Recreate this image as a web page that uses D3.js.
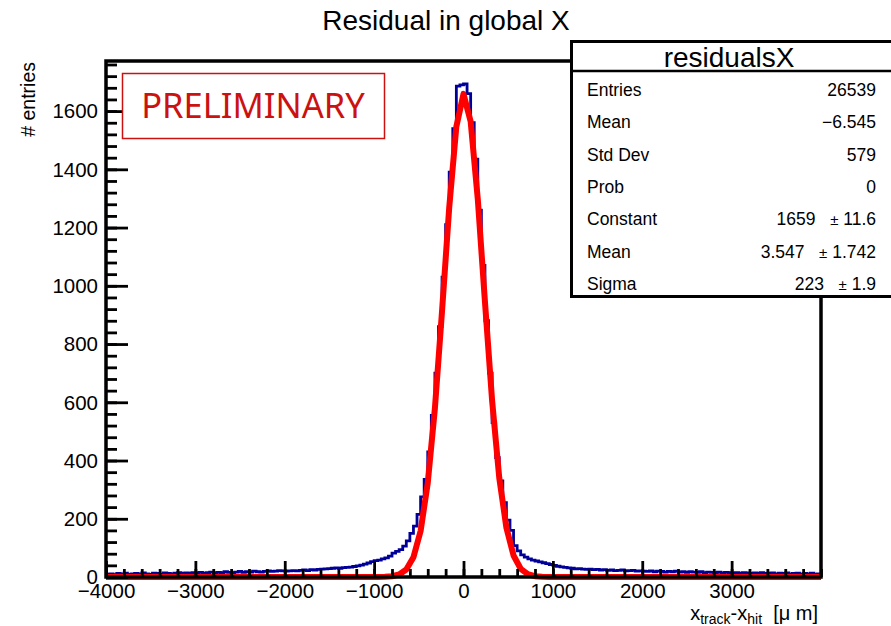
<!DOCTYPE html>
<html><head><meta charset="utf-8">
<script src="https://cdn.jsdelivr.net/npm/d3@7"></script>
<style>body{margin:0;background:#fff}text{font-family:"Liberation Sans",Arial,Helvetica,sans-serif}</style>
</head><body>
<svg id="c" width="891" height="626"></svg>
<script>
// ---- data ----
const binLow = -4000, binHigh = 4000, binWidth = 40;
const counts = [
  9, 11, 8, 12, 10, 13, 9, 11, 12, 10, 14, 11, 9, 13, 12, 10, 14, 12, 11, 13, 15, 12, 14, 13, 15,
  14, 16, 13, 15, 17, 14, 16, 15, 18, 16, 15, 17, 19, 16, 18, 17, 20, 18, 17, 19, 21, 19, 20, 22, 21,
  20, 21, 22, 21, 23, 24, 22, 25, 24, 26, 27, 28, 29, 30, 31, 30, 32, 33, 34, 36, 38, 41, 44, 48, 53,
  56, 58, 62, 66, 72, 82, 88, 94, 106, 124, 150, 175, 215, 275, 335, 430, 555, 700, 860, 1030, 1210, 1390, 1540, 1686, 1690,
  1693, 1660, 1560, 1435, 1260, 1070, 880, 700, 530, 410, 330, 255, 195, 160, 108, 90, 76, 68, 62, 58, 55, 52, 49, 46, 43,
  40, 37, 35, 33, 31, 30, 28, 29, 27, 26, 27, 25, 26, 24, 25, 23, 24, 22, 23, 24, 21, 22, 23, 20, 21,
  20, 19, 21, 18, 20, 19, 17, 19, 18, 20, 17, 18, 16, 18, 17, 16, 18, 15, 17, 16, 15, 17, 14, 16, 15,
  14, 15, 13, 15, 14, 12, 14, 13, 15, 12, 13, 14, 11, 13, 12, 14, 11, 12, 13, 10, 12, 11, 13, 10, 11
];
const fitX = [-4000,-3000,-2000,-1200,-1040,-960,-880,-800,-720,-640,-560,-480,-400,-320,-240,-160,-80,0,80,160,240,320,400,480,560,640,720,800,880,960,1040,1200,2000,3000,4000];
const fitY = [0,0,0,0,0.02,0.15,0.65,2.5,8.6,25.8,68.1,158,323,579,914,1268,1547,1659,1564,1297,945,606,341,169,73.7,28.2,9.5,2.8,0.73,0.17,0.03,0,0,0,0];
const xTickValues = [-4000,-3000,-2000,-1000,0,1000,2000,3000];
const yTickValues = [0,200,400,600,800,1000,1200,1400,1600];
const yMax = 1772;
const titleText = "Residual in global X";
const statsTitle = "residualsX";
const statsLabels = ["Entries","Mean","Std Dev","Prob","Constant","Mean","Sigma"];
const statsValues = ["26539","\u22126.545","579","0","1659","3.547","223"];
const statsErrors = ["","","","","11.6","1.742","1.9"];

// ---- layout ----
const svg = d3.select("#c");
const L = 106, R = 821, T = 61, B = 577;
const x = d3.scaleLinear().domain([binLow, binHigh]).range([L, R]);
const y = d3.scaleLinear().domain([0, yMax]).range([B, T]);

svg.append("rect").attr("width",891).attr("height",626).attr("fill","#fff");

// histogram
const pts = counts.map((c,i)=>[binLow + i*binWidth, c]);
pts.push([binHigh, counts[counts.length-1]]);
const hline = d3.line().x(d=>x(d[0])).y(d=>y(d[1])).curve(d3.curveStepAfter);
svg.append("path").attr("d", hline(pts)).attr("fill","none")
  .attr("stroke","#000099").attr("stroke-width",2.8);

// fit
const fline = d3.line().x((d,i)=>x(fitX[i])).y(d=>y(d));
svg.append("path").attr("d", fline(fitY)).attr("fill","none")
  .attr("stroke","#ff0000").attr("stroke-width",6).attr("stroke-linejoin","round");

// axes
const xMinor = d3.range(binLow, binHigh+1, 200);
const yMinor = d3.range(0, yMax, 40);
const fmtX = d=>d<0?"\u2212"+Math.abs(d):""+d;
const gxm = svg.append("g").attr("transform",`translate(0,${B})`)
  .call(d3.axisBottom(x).tickValues(xMinor).tickSize(-8).tickFormat(""));
const gx = svg.append("g").attr("transform",`translate(0,${B})`)
  .call(d3.axisBottom(x).tickValues(xTickValues).tickSizeInner(-16).tickSizeOuter(0).tickPadding(3)
    .tickFormat(fmtX));
const gym = svg.append("g").attr("transform",`translate(${L},0)`)
  .call(d3.axisLeft(y).tickValues(yMinor).tickSize(-11).tickFormat(""));
const gy = svg.append("g").attr("transform",`translate(${L},0)`)
  .call(d3.axisLeft(y).tickValues(yTickValues).tickSizeInner(-22).tickSizeOuter(0).tickPadding(8)
    .tickFormat(d3.format("d")));
[gx,gxm,gy,gym].forEach(g=>{
  g.select(".domain").remove();
  g.selectAll("line").attr("stroke","#000").attr("stroke-width",2.8);
  g.selectAll("text").attr("fill","#000").attr("font-size",20.5)
    .style("font-family","'Liberation Sans',Arial,sans-serif");
});
gx.selectAll("text").attr("dy","0.88em");
gy.selectAll("text").attr("dy","0.33em");

// frame
svg.append("rect").attr("x",L).attr("y",T).attr("width",R-L).attr("height",B-T)
  .attr("fill","none").attr("stroke","#000").attr("stroke-width",3.5);

// title
svg.append("text").attr("x",446).attr("y",30).attr("text-anchor","middle")
  .attr("font-size",28).text(titleText);

// y title
svg.append("text").attr("transform","translate(35,62) rotate(-90)").attr("text-anchor","end")
  .attr("font-size",19.5).text("# entries");

// x title
const xt = svg.append("text").attr("x",818).attr("y",620).attr("text-anchor","end").attr("font-size",20)
  .attr("xml:space","preserve");
xt.append("tspan").text("x");
xt.append("tspan").attr("font-size",14).attr("dy",3.5).text("track");
xt.append("tspan").attr("dy",-3.5).text("-x");
xt.append("tspan").attr("font-size",14).attr("dy",3.5).text("hit");
xt.append("tspan").attr("dy",-3.5).text("  [\u03bc m]");

// PRELIMINARY
svg.append("rect").attr("x",122.5).attr("y",73.5).attr("width",262).attr("height",65)
  .attr("fill","#fff").attr("stroke","#cc1111").attr("stroke-width",1.5);
svg.append("text").attr("x",253).attr("y",118).attr("text-anchor","middle")
  .attr("font-size",34.5).attr("fill","#cc1111").style("font-family","'Noto Sans','Open Sans',sans-serif")
  .text("PRELIMINARY");

// stats box
const sb = svg.append("g");
sb.append("rect").attr("x",571.5).attr("y",41.5).attr("width",330).attr("height",255)
  .attr("fill","#fff").attr("stroke","#000").attr("stroke-width",3);
sb.append("line").attr("x1",571.5).attr("x2",891).attr("y1",71).attr("y2",71)
  .attr("stroke","#000").attr("stroke-width",2.5);
sb.append("text").attr("x",729).attr("y",67).attr("text-anchor","middle").attr("font-size",28).text(statsTitle);
const rowY = d3.scaleLinear().domain([0,6]).range([96,290]);
statsLabels.forEach((lab,i)=>{
  sb.append("text").attr("x",587).attr("y",rowY(i)).attr("font-size",17.5).text(lab);
  const t = sb.append("text").attr("x",876).attr("y",rowY(i)).attr("text-anchor","end")
    .attr("font-size",17.5).attr("xml:space","preserve");
  t.append("tspan").text(statsValues[i]);
  if (statsErrors[i]) {
    t.append("tspan").text("   ");
    t.append("tspan").attr("font-size",15).text("\u00b1");
    t.append("tspan").text(" " + statsErrors[i]);
  }
});
</script>
</body></html>
